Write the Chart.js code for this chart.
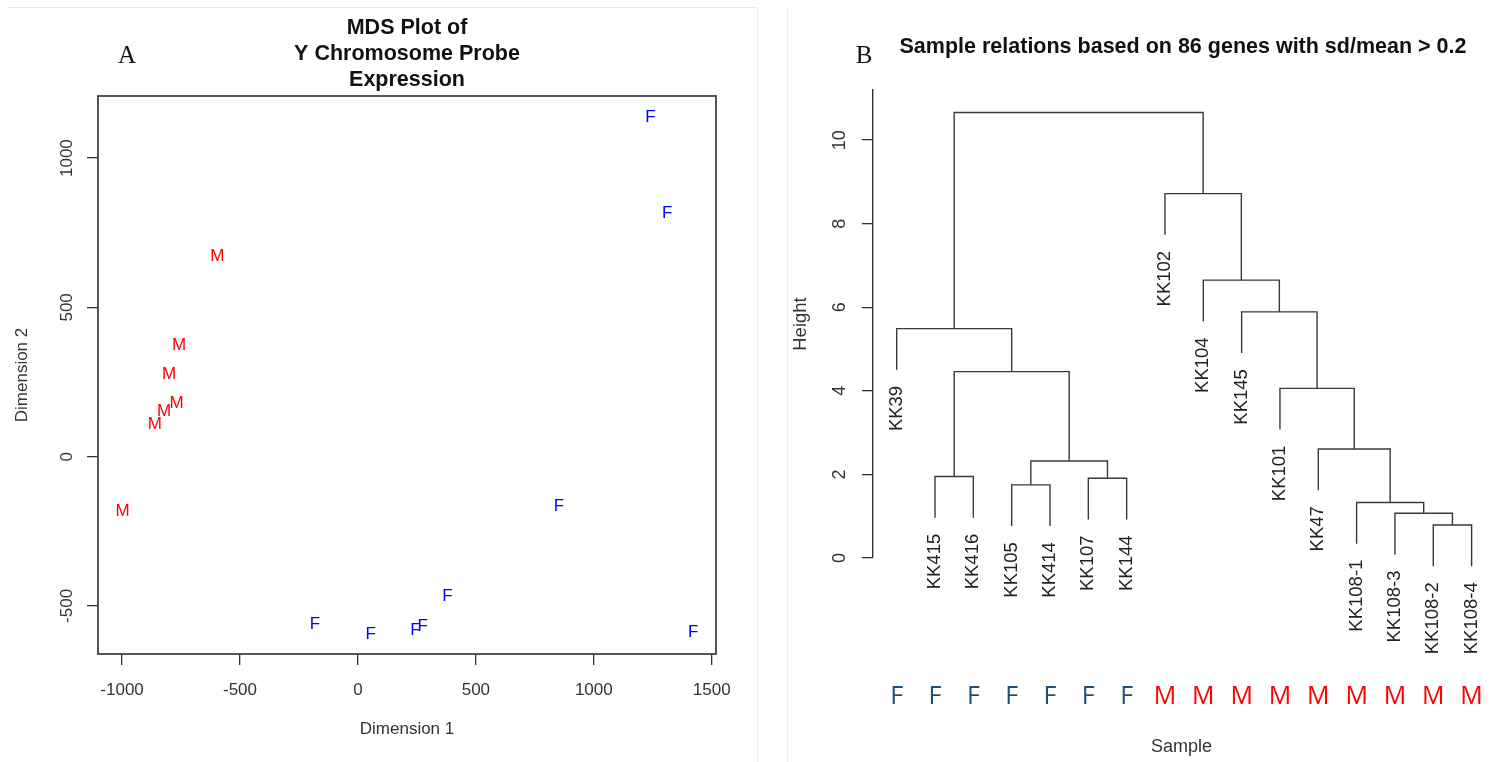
<!DOCTYPE html>
<html>
<head>
<meta charset="utf-8">
<script src="https://cdn.jsdelivr.net/npm/chart.js@4"></script>
<style>
  body { margin: 0; background: #fff; width: 1490px; height: 762px; position: relative; overflow: hidden; }
  #mds { position: absolute; left: 0; top: 0; }
  #dendro { position: absolute; left: 790px; top: 0; }
  .rule { position: absolute; background: #e4ebf2; }
</style>
</head>
<body>
<div class="rule" style="left:8px;top:7px;width:750px;height:1px"></div>
<div class="rule" style="left:757px;top:7px;width:1px;height:755px;background:#eef0f3"></div>
<div class="rule" style="left:787px;top:8px;width:1px;height:754px;background:#eef0f3"></div>
<canvas id="mds" width="760" height="762"></canvas>
<canvas id="dendro" width="700" height="762"></canvas>
<script>
Chart.defaults.font.family = '"Liberation Sans", Arial, sans-serif';

// ---- panel A : MDS plot
const maleX = [-596, -758, -801, -769, -822, -861, -998];
const maleY = [670, 374, 277, 179, 151, 108, -184];
const femaleX = [1240, 1311, 852, 379, 244, 275, 54, -182, 1421];
const femaleY = [1137, 815, -167, -469, -583, -567, -594, -561, -589];
const mdsXTicks = [-1000, -500, 0, 500, 1000, 1500];
const mdsYTicks = [-500, 0, 500, 1000];
const mdsTitle = ['MDS Plot of', 'Y Chromosome Probe', 'Expression'];

// ---- panel B : dendrogram
const leafLabels = ['KK39', 'KK415', 'KK416', 'KK105', 'KK414', 'KK107', 'KK144', 'KK102',
  'KK104', 'KK145', 'KK101', 'KK47', 'KK108-1', 'KK108-3', 'KK108-2', 'KK108-4'];
const leafSex = ['F', 'F', 'F', 'F', 'F', 'F', 'F', 'M', 'M', 'M', 'M', 'M', 'M', 'M', 'M', 'M'];
// hclust style merges: negative = leaf (position), positive = earlier merge
const mergeLeft = [-15, -14, -13, -4, -6, -2, 4, -12, -11, 6, -1, -10, -9, -8, 11];
const mergeRight = [-16, 1, 2, -5, -7, -3, 5, 3, 8, 7, 10, 9, 12, 13, 14];
const mergeHeight = [0.79, 1.07, 1.33, 1.75, 1.91, 1.95, 2.32, 2.61, 4.06, 4.46, 5.49, 5.89, 6.65, 8.72, 10.66];
const heightTicks = [0, 2, 4, 6, 8, 10];
const dendroTitle = 'Sample relations based on 86 genes with sd/mean > 0.2';

const toPoints = (xs, ys) => xs.map((x, i) => ({ x: x, y: ys[i] }));

function rotatedText(ctx, text, x, y, align) {
  ctx.save();
  ctx.translate(x, y);
  ctx.rotate(-Math.PI / 2);
  ctx.textAlign = align || 'center';
  ctx.fillText(text, 0, 0);
  ctx.restore();
}

const letterPoints = {
  id: 'letterPoints',
  afterDatasetsDraw(chart) {
    const ctx = chart.ctx;
    chart.data.datasets.forEach((ds, i) => {
      ctx.save();
      ctx.font = '17px "Liberation Sans"';
      ctx.fillStyle = ds.textColor;
      ctx.textAlign = 'center';
      ctx.textBaseline = 'middle';
      chart.getDatasetMeta(i).data.forEach(el => ctx.fillText(ds.letter, el.x, el.y));
      ctx.restore();
    });
  }
};

const mdsDecor = {
  id: 'mdsDecor',
  afterDraw(chart) {
    const { ctx, chartArea: a } = chart;
    const y = chart.scales.y;
    ctx.save();
    ctx.strokeStyle = '#444';
    ctx.lineWidth = 1.8;
    ctx.strokeRect(a.left, a.top, a.right - a.left, a.bottom - a.top);
    ctx.fillStyle = '#333';
    ctx.font = '17px "Liberation Sans"';
    ctx.textBaseline = 'middle';
    y.ticks.forEach(t => rotatedText(ctx, String(t.value), a.left - 31, y.getPixelForValue(t.value)));
    ctx.fillStyle = '#111';
    ctx.textAlign = 'center';
    ctx.font = 'bold 21.5px "Liberation Sans"';
    mdsTitle.forEach((s, i) => ctx.fillText(s, (a.left + a.right) / 2, 28 + i * 26));
    ctx.font = '25px "Liberation Serif"';
    ctx.fillText('A', 127, 56);
    ctx.restore();
  }
};

new Chart(document.getElementById('mds'), {
  type: 'scatter',
  data: {
    datasets: [
      { label: 'M', letter: 'M', textColor: '#ff0000', data: toPoints(maleX, maleY) },
      { label: 'F', letter: 'F', textColor: '#0000ff', data: toPoints(femaleX, femaleY) }
    ]
  },
  options: {
    responsive: false,
    animation: false,
    layout: { padding: { left: 0, top: 96, right: 44, bottom: 0 } },
    elements: { point: { radius: 0, hoverRadius: 0 } },
    plugins: { legend: { display: false }, tooltip: { enabled: false } },
    scales: {
      x: {
        type: 'linear', min: -1102, max: 1518,
        afterBuildTicks: s => { s.ticks = mdsXTicks.map(v => ({ value: v })); },
        afterFit: s => { s.height = 108; },
        grid: { drawOnChartArea: false, tickLength: 11, color: '#333', lineWidth: 1.3 },
        border: { display: false },
        ticks: { callback: v => String(v), color: '#333', font: { size: 17 }, padding: 15, maxRotation: 0, autoSkip: false },
        title: { display: true, text: 'Dimension 1', color: '#333', font: { size: 17 }, padding: { top: 0, bottom: 22 } }
      },
      y: {
        type: 'linear', min: -661, max: 1208,
        afterBuildTicks: s => { s.ticks = mdsYTicks.map(v => ({ value: v })); },
        afterFit: s => { s.width = 98; },
        grid: { drawOnChartArea: false, tickLength: 11, color: '#333', lineWidth: 1.3 },
        border: { display: false },
        ticks: { callback: () => '', autoSkip: false },
        title: { display: true, text: 'Dimension 2', color: '#333', font: { size: 17 }, padding: { top: 12, bottom: 0 } }
      }
    }
  },
  plugins: [letterPoints, mdsDecor]
});

// build dendrogram links from the merge table
const hang = 0.1 * (Math.max(...mergeHeight) - Math.min(...mergeHeight));
const nodeX = [];
const leafEnd = [];
function child(c, h) {
  if (c < 0) {
    leafEnd[-c - 1] = h - hang;
    return { x: -c, y: h - hang };
  }
  return { x: nodeX[c - 1], y: mergeHeight[c - 1] };
}
const links = mergeHeight.map((h, k) => {
  const l = child(mergeLeft[k], h);
  const r = child(mergeRight[k], h);
  nodeX[k] = (l.x + r.x) / 2;
  return [{ x: l.x, y: l.y }, { x: l.x, y: h }, { x: r.x, y: h }, { x: r.x, y: r.y }];
});

const dendroDecor = {
  id: 'dendroDecor',
  afterDraw(chart) {
    const { ctx, chartArea: a } = chart;
    const x = chart.scales.x, y = chart.scales.y;
    ctx.save();
    ctx.fillStyle = '#333';
    ctx.textBaseline = 'middle';
    ctx.font = '18px "Liberation Sans"';
    y.ticks.forEach(t => rotatedText(ctx, String(t.value), a.left - 33, y.getPixelForValue(t.value)));
    ctx.fillStyle = '#222';
    ctx.font = '18.5px "Liberation Sans"';
    leafLabels.forEach((s, i) => rotatedText(ctx, s, x.getPixelForValue(i + 1), y.getPixelForValue(leafEnd[i]) + 16, 'right'));
    ctx.fillStyle = '#111';
    ctx.textAlign = 'center';
    ctx.font = 'bold 21.5px "Liberation Sans"';
    ctx.fillText(dendroTitle, 393, 47);
    ctx.font = '25px "Liberation Serif"';
    ctx.fillText('B', 74, 56);
    ctx.restore();
  }
};

new Chart(document.getElementById('dendro'), {
  type: 'scatter',
  data: {
    datasets: links.map(pts => ({
      data: pts, showLine: true, borderColor: '#3a3a3a', borderWidth: 1.4,
      pointRadius: 0, tension: 0, clip: false
    }))
  },
  options: {
    responsive: false,
    animation: false,
    layout: { padding: { left: 0, top: 90, right: 0, bottom: 0 } },
    plugins: { legend: { display: false }, tooltip: { enabled: false } },
    scales: {
      x: {
        type: 'linear', min: 0.382, max: 16.48,
        afterBuildTicks: s => { s.ticks = leafSex.map((v, i) => ({ value: i + 1 })); },
        afterFit: s => { s.height = 204; },
        // invisible tick marks push the sex letters down below the leaf labels
        grid: { display: true, drawOnChartArea: false, drawTicks: true, tickLength: 121, color: 'rgba(0,0,0,0)' },
        border: { display: false },
        ticks: {
          callback: (v, i) => leafSex[i],
          color: c => leafSex[c.index] === 'M' ? '#ff0000' : '#1f4e79',
          font: { family: '"Open Sans"', size: 25 },
          padding: 3, maxRotation: 0, autoSkip: false
        },
        title: { display: true, text: 'Sample', color: '#333', font: { size: 18 }, padding: { top: 0, bottom: 4 } }
      },
      y: {
        type: 'linear', min: 0, max: 11.2,
        afterBuildTicks: s => { s.ticks = heightTicks.map(v => ({ value: v })); },
        afterFit: s => { s.width = 83; },
        grid: { drawOnChartArea: false, tickLength: 11, color: '#333', lineWidth: 1.3 },
        border: { display: true, color: '#333', width: 1.4 },
        ticks: { callback: () => '', autoSkip: false },
        title: { display: true, text: 'Height', color: '#333', font: { size: 18.5 }, padding: { top: 0, bottom: 0 } }
      }
    }
  },
  plugins: [dendroDecor]
});
</script>
</body>
</html>
